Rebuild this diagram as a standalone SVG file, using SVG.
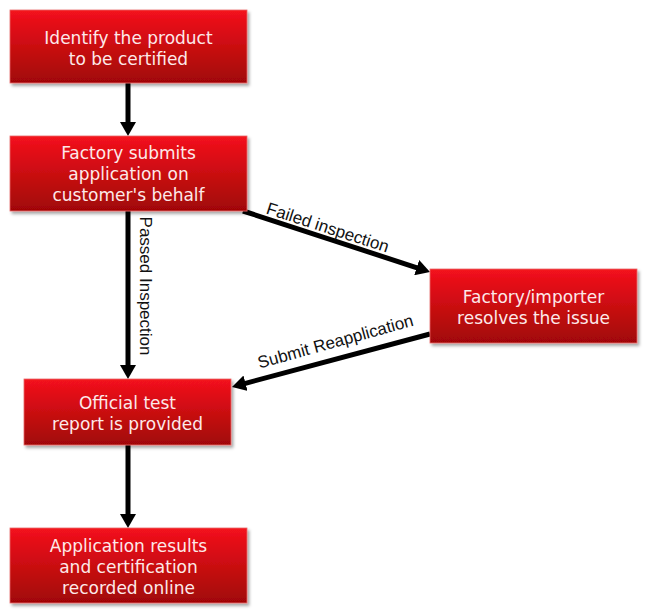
<svg xmlns="http://www.w3.org/2000/svg" width="650" height="616" viewBox="0 0 650 616">
<defs>
<linearGradient id="red" x1="0" y1="0" x2="0" y2="1">
<stop offset="0" stop-color="#f4121c"/>
<stop offset="1" stop-color="#a00606"/>
</linearGradient>
<filter id="sh" x="-10%" y="-10%" width="130%" height="140%">
<feDropShadow dx="2" dy="2.5" stdDeviation="1.5" flood-color="#000" flood-opacity="0.35"/>
</filter>
<marker id="ah" viewBox="0 0 14 16" refX="2" refY="8" markerWidth="14" markerHeight="16" markerUnits="userSpaceOnUse" orient="auto">
<path d="M0,0 L14,8 L0,16 z" fill="#000"/>
</marker>
<style>
.box{fill:url(#red);stroke:#e86a6a;stroke-width:0.8;filter:url(#sh)}
.bt{font-family:"DejaVu Sans",Verdana,sans-serif;font-size:17px;fill:#fde9e9;text-anchor:middle}
.lbl{font-family:"Liberation Sans",Arial,sans-serif;font-size:17px;fill:#111;text-anchor:middle}
.cn{stroke:#000;stroke-width:5;fill:none;marker-end:url(#ah)}
</style>
</defs>
<rect width="650" height="616" fill="#fff"/>
<g id="connectors">
<line class="cn" x1="128" y1="83" x2="128" y2="124"/>
<line class="cn" x1="128" y1="211" x2="128" y2="367"/>
<line class="cn" x1="243" y1="211" x2="418.6" y2="268.3"/>
<line class="cn" x1="430" y1="334" x2="243.6" y2="383.8"/>
<line class="cn" x1="128" y1="445" x2="128" y2="516"/>
<text class="lbl" transform="translate(139.5,286) rotate(90)">Passed Inspection</text>
<text class="lbl" transform="translate(326,233) rotate(18)">Failed inspection</text>
<text class="lbl" transform="translate(337,347) rotate(-15.5)">Submit Reapplication</text>
</g>
<g id="n1">
<rect class="box" x="10" y="10" width="237" height="73"/>
<text class="bt" x="128.5" y="44">Identify the product</text>
<text class="bt" x="128.5" y="65">to be certified</text>
</g>
<g id="n2">
<rect class="box" x="10" y="136" width="237" height="75"/>
<text class="bt" x="128.5" y="159">Factory submits</text>
<text class="bt" x="128.5" y="180">application on</text>
<text class="bt" x="128.5" y="201">customer's behalf</text>
</g>
<g id="n3">
<rect class="box" x="430" y="269" width="207" height="74"/>
<text class="bt" x="533.5" y="303">Factory/importer</text>
<text class="bt" x="533.5" y="324">resolves the issue</text>
</g>
<g id="n4">
<rect class="box" x="24" y="379" width="207" height="66"/>
<text class="bt" x="127.5" y="409">Official test</text>
<text class="bt" x="127.5" y="430">report is provided</text>
</g>
<g id="n5">
<rect class="box" x="10" y="528" width="237" height="75"/>
<text class="bt" x="128.5" y="552">Application results</text>
<text class="bt" x="128.5" y="573">and certification</text>
<text class="bt" x="128.5" y="594">recorded online</text>
</g>
</svg>
